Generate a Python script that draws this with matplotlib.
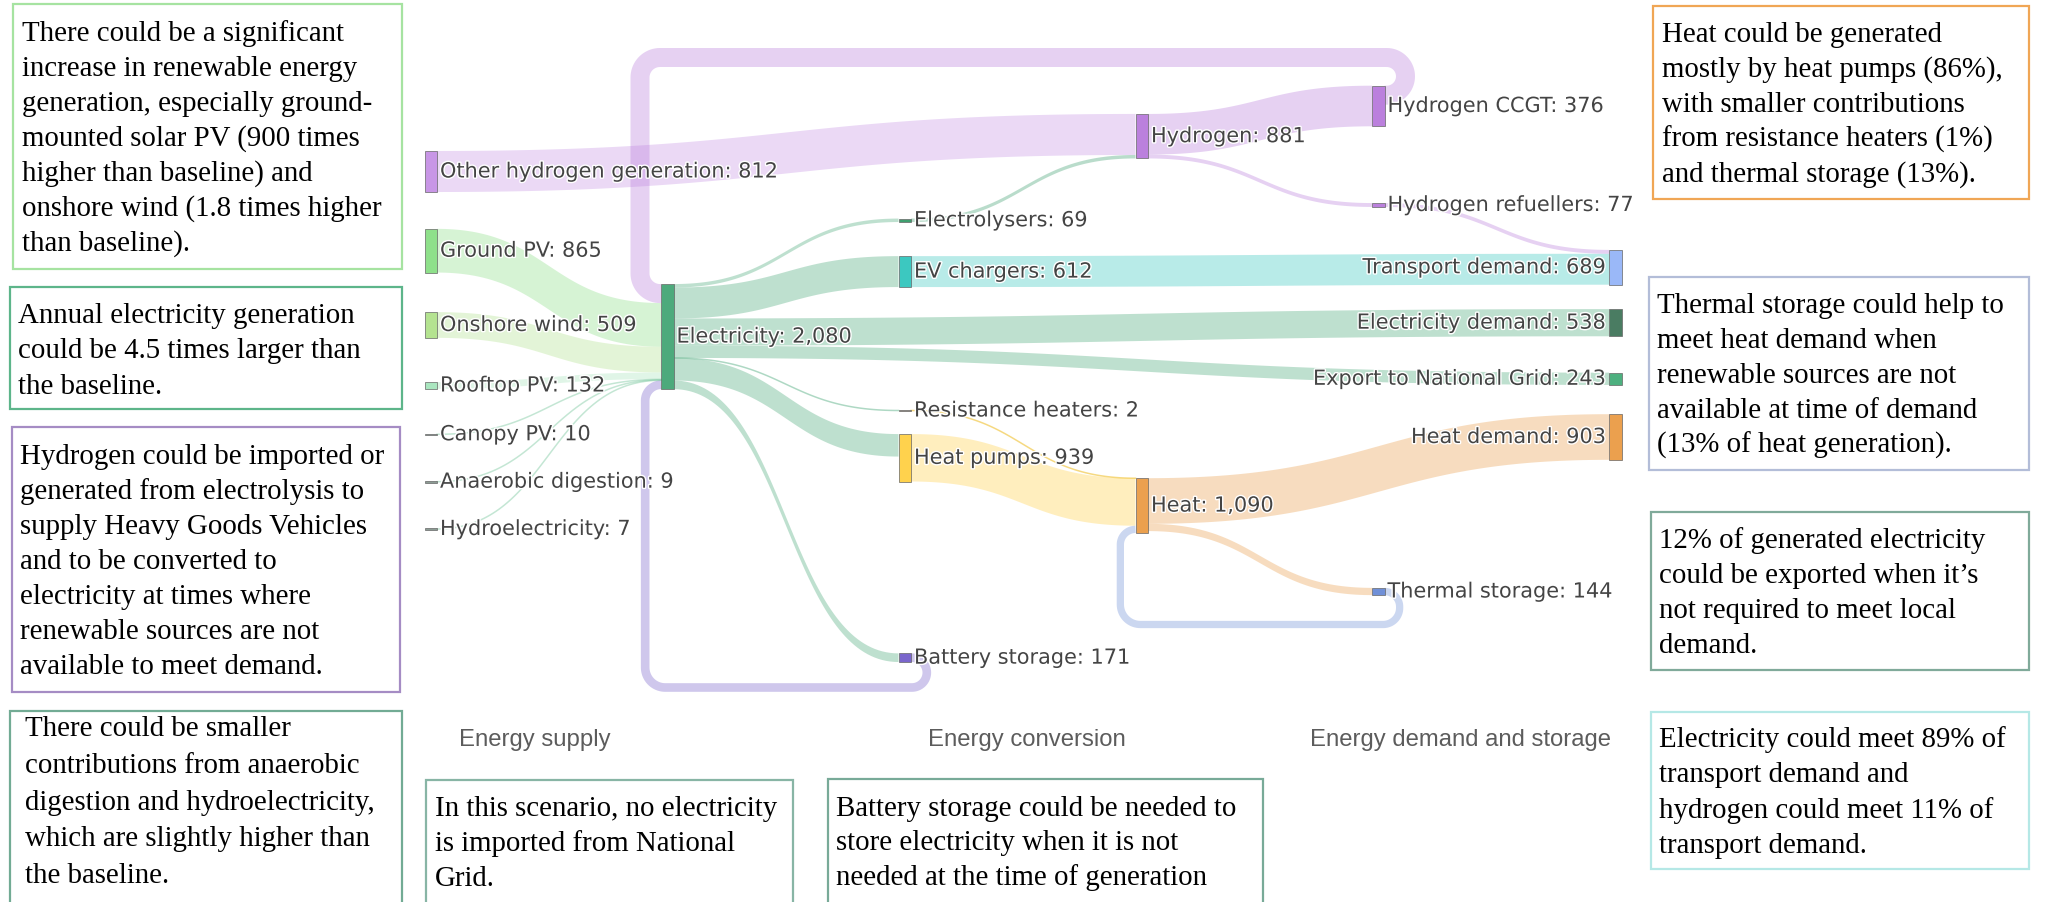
import numpy as np
import matplotlib
matplotlib.use("Agg")
import matplotlib.pyplot as plt
from matplotlib.patches import Rectangle
import matplotlib.patheffects as pe

# ---- data -------------------------------------------------------------
nodes = ["Other hydrogen generation", "Ground PV", "Onshore wind", "Rooftop PV",
         "Canopy PV", "Anaerobic digestion", "Hydroelectricity",
         "Electricity",
         "Electrolysers", "EV chargers", "Resistance heaters", "Heat pumps", "Battery storage",
         "Hydrogen", "Heat",
         "Hydrogen CCGT", "Hydrogen refuellers", "Thermal storage",
         "Transport demand", "Electricity demand", "Export to National Grid", "Heat demand"]
node_values = [812, 865, 509, 132, 10, 9, 7, 2080, 69, 612, 2, 939, 171,
               881, 1090, 376, 77, 144, 689, 538, 243, 903]

link_from = ["Other hydrogen generation", "Ground PV", "Onshore wind", "Rooftop PV",
             "Canopy PV", "Anaerobic digestion", "Hydroelectricity",
             "Electricity", "Electricity", "Electricity", "Electricity",
             "Electricity", "Electricity", "Electricity",
             "Electrolysers", "EV chargers", "Resistance heaters", "Heat pumps",
             "Battery storage", "Hydrogen", "Hydrogen", "Heat", "Heat",
             "Hydrogen CCGT", "Hydrogen refuellers", "Thermal storage"]
link_to = ["Hydrogen", "Electricity", "Electricity", "Electricity",
           "Electricity", "Electricity", "Electricity",
           "Electrolysers", "EV chargers", "Electricity demand", "Export to National Grid",
           "Resistance heaters", "Heat pumps", "Battery storage",
           "Hydrogen", "Transport demand", "Heat", "Heat",
           "Electricity", "Hydrogen CCGT", "Hydrogen refuellers", "Heat demand", "Thermal storage",
           "Electricity", "Transport demand", "Heat"]
link_value = [812, 865, 509, 132, 10, 9, 7,
              69, 612, 538, 243, 2, 445, 171,
              69, 612, 2, 939,
              171, 804, 77, 903, 144,
              376, 77, 144]

column_titles = ["Energy supply", "Energy conversion", "Energy demand and storage"]

notes = [
    (["There could be a significant", "increase in renewable energy",
      "generation, especially ground-", "mounted solar PV (900 times",
      "higher than baseline) and", "onshore wind (1.8 times higher",
      "than baseline)."], "#a6e3a1"),
    (["Annual electricity generation", "could be 4.5 times larger than",
      "the baseline."], "#5db58a"),
    (["Hydrogen could be imported or", "generated from electrolysis to",
      "supply Heavy Goods Vehicles", "and to be converted to",
      "electricity at times where", "renewable sources are not",
      "available to meet demand."], "#a58cc4"),
    (["There could be smaller", "contributions from anaerobic",
      "digestion and hydroelectricity,", "which are slightly higher than",
      "the baseline."], "#72ab94"),
    (["In this scenario, no electricity", "is imported from National",
      "Grid."], "#88b5a5"),
    (["Battery storage could be needed to", "store electricity when it is not",
      "needed at the time of generation"], "#78aa98"),
    (["Heat could be generated", "mostly by heat pumps (86%),",
      "with smaller contributions", "from resistance heaters (1%)",
      "and thermal storage (13%)."], "#f0a655"),
    (["Thermal storage could help to", "meet heat demand when",
      "renewable sources are not", "available at time of demand",
      "(13% of heat generation)."], "#b3bdd8"),
    (["12% of generated electricity", "could be exported when it\u2019s",
      "not required to meet local", "demand."], "#80aa9a"),
    (["Electricity could meet 89% of", "transport demand and",
      "hydrogen could meet 11% of", "transport demand."], "#b5e8e6"),
]

# ---- layout (pixels) ---------------------------------------------------
node_col = [0, 0, 0, 0, 0, 0, 0, 1, 2, 2, 2, 2, 2, 3, 3, 4, 4, 4, 5, 5, 5, 5]
col_x = [424.5, 661, 898.5, 1135.5, 1372, 1609]
node_cy = [171.5, 250.7, 325, 385.5, 434.3, 481.7, 529, 336.6,
           220.3, 271.6, 410.5, 457.8, 657.7,
           136.2, 505.6, 106, 205, 591.5,
           267.3, 322.7, 378.8, 437]
node_colors = ["#c896e6", "#8ee08a", "#b4e390", "#a9e6bf", "#8c9c94", "#8c9c94", "#8c9c94",
               "#4daa7c", "#3f9f6f", "#3cc8c0", "#a89a80", "#ffd24d", "#7a66cc",
               "#bb80dd", "#eba04e", "#bb80dd", "#bb80dd", "#7090d8",
               "#9ab8f8", "#4a7c62", "#4db07f", "#eba04e"]
node_w = 12.5
px_per_unit = 105.1 / 2080
loop_level = {"Battery storage": 687.5, "Hydrogen CCGT": 57.5, "Thermal storage": 624.5}
title_x = [535, 1027, 1461]
title_y = 740
box_rect = [(13, 4, 389, 265), (10, 287, 392, 122), (12, 427, 388, 265), (10, 711, 392, 200),
            (426, 780, 367, 130), (828, 779, 435, 130), (1653, 6, 376, 193),
            (1649, 277, 380, 193), (1651, 512, 378, 158), (1651, 712, 378, 157)]
box_text_x = [22, 18, 20, 25, 435, 836, 1662, 1657, 1659, 1659]
box_first_base = [40.7, 323, 464, 736, 816, 816, 41.7, 313, 548, 747]
box_step = [35, 35.5, 35, 36.8, 35, 34.5, 35, 35, 35, 35.3]

# ---- helpers -----------------------------------------------------------
idx = {name: i for i, name in enumerate(nodes)}
src = [idx[s] for s in link_from]
dst = [idx[t] for t in link_to]
n = len(nodes)
inflow = np.zeros(n)
outflow = np.zeros(n)
for s, t, v in zip(src, dst, link_value):
    outflow[s] += v
    inflow[t] += v
node_h = np.maximum(inflow, outflow) * px_per_unit
node_top = np.array(node_cy) - node_h / 2

# slot positions of each link at both ends
out_y = {}
in_y = {}
for i in range(n):
    outs = sorted([j for j in range(len(src)) if src[j] == i], key=lambda j: node_cy[dst[j]])
    y = node_top[i]
    for j in outs:
        h = link_value[j] * px_per_unit
        out_y[j] = (y, y + h)
        y += h
    ins = sorted([j for j in range(len(dst)) if dst[j] == i], key=lambda j: node_cy[src[j]])
    y = node_top[i]
    for j in ins:
        h = link_value[j] * px_per_unit
        in_y[j] = (y, y + h)
        y += h


def rgba(hexcol, a):
    c = matplotlib.colors.to_rgb(hexcol)
    return (c[0], c[1], c[2], a)


def curve(x0, y0, x1, y1, m=80):
    t = np.linspace(0, 1, m)
    xm = (x0 + x1) / 2
    x = (1 - t) ** 3 * x0 + 3 * (1 - t) ** 2 * t * xm + 3 * (1 - t) * t ** 2 * xm + t ** 3 * x1
    y = y0 + (y1 - y0) * (3 * t ** 2 - 2 * t ** 3)
    return x, y


def rounded(pts, r):
    pts = [np.array(p, dtype=float) for p in pts]
    xs, ys = [pts[0][0]], [pts[0][1]]
    nseg = len(pts) - 1
    for i in range(1, len(pts) - 1):
        p0, p1, p2 = pts[i - 1], pts[i], pts[i + 1]
        l0 = np.linalg.norm(p1 - p0)
        l1 = np.linalg.norm(p2 - p1)
        a0 = l0 if i == 1 else l0 / 2
        a1 = l1 if i + 1 == nseg else l1 / 2
        rr = min(r, a0, a1)
        d0 = (p1 - p0) / l0
        d1 = (p2 - p1) / l1
        c = p1 - d0 * rr + d1 * rr
        for tt in np.linspace(0, np.pi / 2, 20):
            q = c + rr * (-d1 * np.cos(tt) + d0 * np.sin(tt))
            xs.append(q[0])
            ys.append(q[1])
    xs.append(pts[-1][0])
    ys.append(pts[-1][1])
    return xs, ys


# ---- figure ------------------------------------------------------------
fig = plt.figure(figsize=(20.48, 9.02), dpi=100)
ax = fig.add_axes([0, 0, 1, 1])
ax.set_xlim(0, 2048)
ax.set_ylim(902, 0)
ax.axis("off")

# links
for j in range(len(src)):
    s, t = src[j], dst[j]
    col = rgba(node_colors[s], 0.36)
    if nodes[s] == "Resistance heaters":
        col = rgba("#f2c94c", 0.7)
    x0 = col_x[node_col[s]] + node_w
    x1 = col_x[node_col[t]]
    (a0, b0), (a1, b1) = out_y[j], in_y[j]
    w = b0 - a0
    if node_col[t] <= node_col[s]:
        # circular link going back to an earlier column
        gap = w / 2 + 11.5
        yc0, yc1 = (a0 + b0) / 2, (a1 + b1) / 2
        lev = loop_level[nodes[s]]
        xs, ys = rounded([(x0, yc0), (x0 + gap, yc0), (x0 + gap, lev),
                          (x1 - gap, lev), (x1 - gap, yc1), (x1, yc1)], 20)
        ax.plot(xs, ys, color=col, lw=w * 0.72, solid_capstyle="butt",
                solid_joinstyle="round", zorder=1)
    elif w < 1.3:
        xs, ys = curve(x0, (a0 + b0) / 2, x1, (a1 + b1) / 2)
        if nodes[s] != "Resistance heaters":
            col = rgba("#4daa7c", 0.45)
            if node_col[s] == 0:
                col = rgba("#7cc9a0", 0.45)
        ax.plot(xs, ys, color=col, lw=1.1, zorder=1)
    else:
        xt, yt = curve(x0, a0, x1, a1)
        xb, yb = curve(x0, b0, x1, b1)
        ax.fill(np.concatenate([xt, xb[::-1]]), np.concatenate([yt, yb[::-1]]),
                color=col, lw=0, zorder=1)

# nodes and labels
for i, name in enumerate(nodes):
    x = col_x[node_col[i]]
    h = max(node_h[i], 1.6)
    ax.add_patch(Rectangle((x, node_cy[i] - h / 2), node_w, h, facecolor=node_colors[i],
                           edgecolor="#666666", lw=0.5, zorder=3))
    label = f"{name}: {node_values[i]:,}"
    if node_col[i] == 5:
        lx, ha = x - 3, "right"
    else:
        lx, ha = x + node_w + 3, "left"
    ax.text(lx, node_cy[i], label, ha=ha, va="center", fontsize=15, color="#444444",
            family="DejaVu Sans", zorder=4,
            path_effects=[pe.withStroke(linewidth=2, foreground="white")])

# column titles
for tx, title in zip(title_x, column_titles):
    ax.text(tx, title_y, title, ha="center", va="center", fontsize=17.2,
            color="#5c5c5c", family="Liberation Sans", zorder=4)

# note boxes
for (lines, edge), (bx, by, bw, bh), tx, fb, st in zip(notes, box_rect, box_text_x,
                                                       box_first_base, box_step):
    ax.add_patch(Rectangle((bx, by), bw, bh, facecolor="white", edgecolor=edge,
                           lw=1.6, zorder=5))
    for k, line in enumerate(lines):
        ax.text(tx, fb + k * st, line, ha="left", va="baseline", fontsize=20.8,
                color="black", family="Liberation Serif", zorder=6)

fig.savefig("out.png", dpi=100)
